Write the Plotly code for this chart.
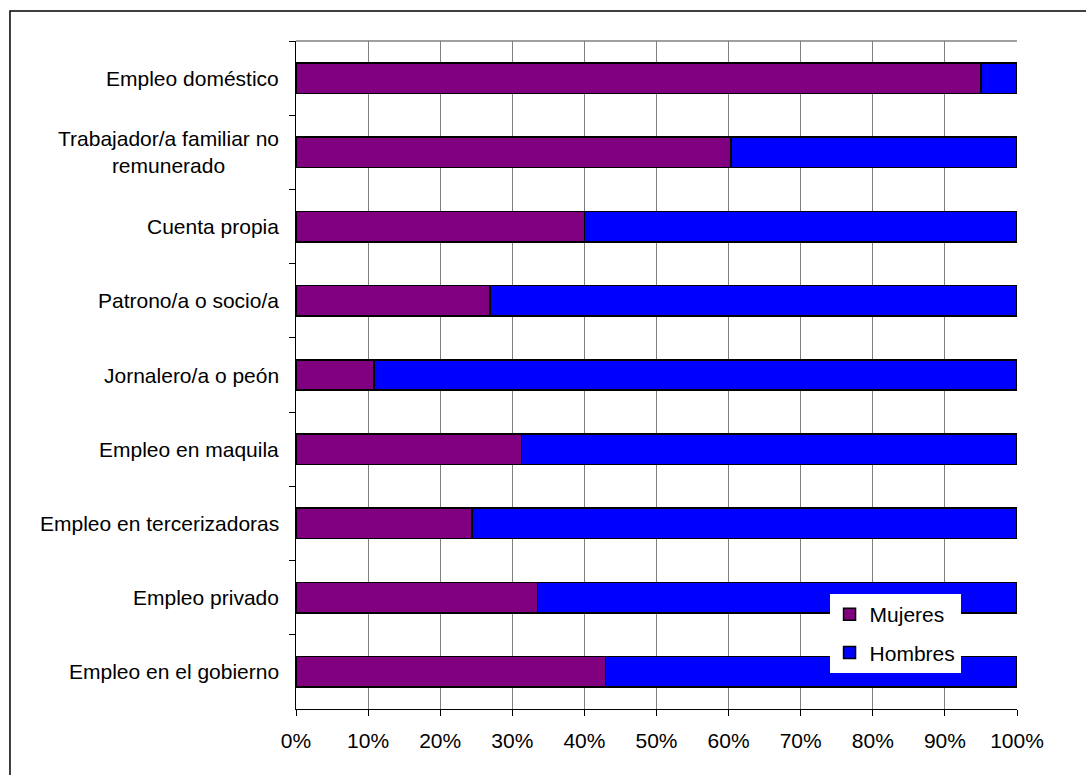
import plotly.graph_objects as go

categorias = [
    "Empleo doméstico",
    "Trabajador/a familiar no<br>remunerado",
    "Cuenta propia",
    "Patrono/a o socio/a",
    "Jornalero/a o peón",
    "Empleo en maquila",
    "Empleo en tercerizadoras",
    "Empleo privado",
    "Empleo en el gobierno",
]
mujeres = [95.0, 60.3, 40.0, 26.9, 10.8, 31.3, 24.4, 33.5, 42.9]
hombres = [5.0, 39.7, 60.0, 73.1, 89.2, 68.7, 75.6, 66.5, 57.1]
ticks_x = [0, 10, 20, 30, 40, 50, 60, 70, 80, 90, 100]
ticks_x_text = ["0%", "10%", "20%", "30%", "40%", "50%", "60%", "70%", "80%", "90%", "100%"]

FONT = "Liberation Sans, Arial, sans-serif"
FS = 21

fig = go.Figure()
fig.add_trace(go.Bar(
    y=categorias, x=mujeres, orientation="h", name="Mujeres", legendgroup="m",
    marker=dict(color="#800080", line=dict(color="black", width=1.5)),
))
fig.add_trace(go.Bar(
    y=categorias, x=hombres, orientation="h", name="Hombres", legendgroup="h",
    marker=dict(color="#0000FF", line=dict(color="black", width=1.5)),
))

annotations = []
for c in categorias:
    annotations.append(dict(
        x=0, xref="paper", y=c, yref="y", text=c, showarrow=False,
        xanchor="right", yanchor="middle", align="center", xshift=-15,
        font=dict(family=FONT, size=FS, color="black"),
    ))

fig.update_layout(
    width=1086, height=775,
    margin=dict(l=296, r=69, t=41, b=66),
    paper_bgcolor="white", plot_bgcolor="white",
    barmode="stack", bargap=0.59,
    font=dict(family=FONT, size=FS, color="black"),
    showlegend=True,
    legend=dict(
        x=0.74, y=0.172, xanchor="left", yanchor="top",
        bgcolor="white", borderwidth=0,
        font=dict(family=FONT, size=FS, color="black"),
        traceorder="grouped", tracegroupgap=8,
    ),
    annotations=annotations,
    xaxis=dict(
        range=[0, 100], tickvals=ticks_x, ticktext=ticks_x_text,
        showgrid=True, gridcolor="#808080", gridwidth=1,
        showline=True, linecolor="black", linewidth=1,
        ticks="outside", ticklen=6, tickcolor="black",
        ticklabelstandoff=7, zeroline=False,
    ),
    yaxis=dict(
        type="category", autorange="reversed",
        showticklabels=False, tickson="boundaries",
        ticks="outside", ticklen=6, tickcolor="black",
        showline=True, linecolor="black", linewidth=1,
        showgrid=False, zeroline=False,
    ),
    shapes=[
        dict(type="line", xref="paper", yref="paper", x0=0, x1=1, y0=1, y1=1,
             line=dict(color="#808080", width=1.5)),
        dict(type="rect", xref="paper", yref="paper",
             x0=-0.3967, x1=1.3, y0=-0.3, y1=1.0449,
             line=dict(color="black", width=1.5), layer="below"),
    ],
)

fig.write_html("out.html")
